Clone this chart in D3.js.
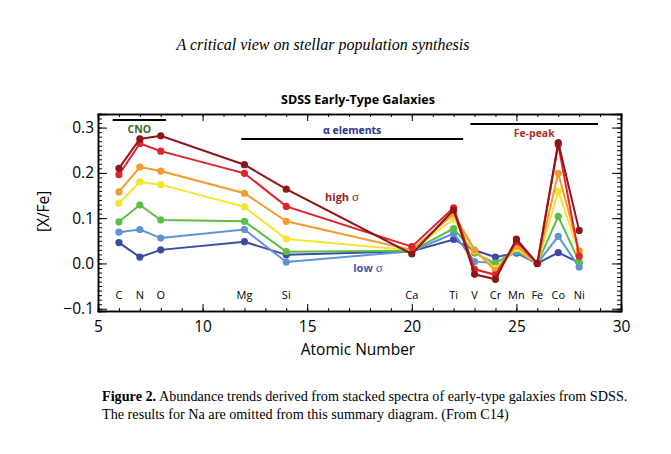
<!DOCTYPE html>
<html>
<head>
<meta charset="utf-8">
<script src="https://cdn.jsdelivr.net/npm/d3@7"></script>
<style>
  body { margin: 0; background: #fff; }
  svg { display: block; }
</style>
</head>
<body>
<script>
var width = 671,
  height = 454

// elements and their atomic numbers
var elements = ['C', 'N', 'O', 'Mg', 'Si', 'Ca', 'Ti', 'V', 'Cr', 'Mn', 'Fe', 'Co', 'Ni']
var atomicNumbers = [6, 7, 8, 12, 14, 20, 22, 23, 24, 25, 26, 27, 28]

// [X/Fe] per velocity dispersion bin, low sigma -> high sigma
var sigmaLowest = [0.046, 0.014, 0.030, 0.048, 0.019, 0.027, 0.053, 0.029, 0.014, 0.023, 0.0, 0.024, 0.002]
var sigmaBin2 = [0.069, 0.075, 0.056, 0.075, 0.003, 0.027, 0.066, 0.004, 0.001, 0.025, 0.0, 0.060, -0.008]
var sigmaBin3 = [0.092, 0.129, 0.096, 0.093, 0.026, 0.028, 0.077, 0.023, 0.000, 0.030, 0.0, 0.104, 0.004]
var sigmaBin4 = [0.133, 0.180, 0.174, 0.125, 0.054, 0.029, 0.098, 0.028, -0.011, 0.033, 0.0, 0.159, 0.024]
var sigmaBin5 = [0.158, 0.213, 0.204, 0.155, 0.093, 0.030, 0.109, 0.030, -0.016, 0.038, 0.0, 0.199, 0.028]
var sigmaBin6 = [0.196, 0.265, 0.248, 0.199, 0.126, 0.037, 0.123, -0.013, -0.025, 0.048, 0.0, 0.262, 0.016]
var sigmaHighest = [0.210, 0.275, 0.282, 0.218, 0.164, 0.021, 0.118, -0.024, -0.035, 0.054, 0.0, 0.267, 0.073]

var seriesValues = [sigmaLowest, sigmaBin2, sigmaBin3, sigmaBin4, sigmaBin5, sigmaBin6, sigmaHighest]
var seriesColors = ['#3a4ba3', '#5e93d8', '#5dbd45', '#f2e52e', '#f39b2d', '#e3232b', '#8e1518']

// element groups: label, first and last atomic number covered by the bar
var groupLabels = ['CNO', '\u03b1 elements', 'Fe-peak']
var groupStart = [5.7, 11.85, 22.8]
var groupEnd = [8.25, 22.45, 28.9]

var xTicks = [5, 10, 15, 20, 25, 30]
var yTicks = [-0.1, 0.0, 0.1, 0.2, 0.3]

var plot = { left: 98, right: 621, top: 114, bottom: 311 }

var x = d3.scaleLinear().domain([5, 30]).range([plot.left, plot.right])
var y = d3.scaleLinear().domain([-0.105, 0.33]).range([plot.bottom, plot.top])

var svg = d3.select('body').append('svg')
  .attr('width', width)
  .attr('height', height)

var sans = "'Open Sans', 'DejaVu Sans', sans-serif"
var serif = "'Liberation Serif', 'DejaVu Serif', serif"

// running head
svg.append('text')
  .attr('x', 323)
  .attr('y', 50)
  .attr('text-anchor', 'middle')
  .style('font-family', serif)
  .style('font-style', 'italic')
  .style('font-size', '16px')
  .text('A critical view on stellar population synthesis')

svg.append('text')
  .attr('x', 358)
  .attr('y', 104)
  .attr('text-anchor', 'middle')
  .style('font-family', sans)
  .style('font-weight', 'bold')
  .style('font-size', '12.5px')
  .text('SDSS Early-Type Galaxies')

// axes, ticks pointing inward on all four sides
function minor(domain, step) {
  var out = []
  for (var v = domain[0]; v <= domain[1] + 1e-9; v += step) out.push(+v.toFixed(3))
  return out
}
var xMinor = minor([5, 30], 1)
var yMinor = minor([-0.1, 0.33], 0.01)

var axes = svg.append('g').attr('class', 'axes')

axes.append('g')
  .attr('transform', 'translate(0,' + plot.bottom + ')')
  .call(d3.axisBottom(x).tickValues(xMinor).tickSize(-3).tickFormat(''))
axes.append('g')
  .attr('transform', 'translate(0,' + plot.bottom + ')')
  .call(d3.axisBottom(x).tickValues(xTicks).tickSize(-7).tickPadding(10).tickFormat(d3.format('d')))
axes.append('g')
  .attr('transform', 'translate(0,' + plot.top + ')')
  .call(d3.axisTop(x).tickValues(xMinor).tickSize(-3).tickFormat(''))
axes.append('g')
  .attr('transform', 'translate(0,' + plot.top + ')')
  .call(d3.axisTop(x).tickValues(xTicks).tickSize(-7).tickFormat(''))

axes.append('g')
  .attr('transform', 'translate(' + plot.left + ',0)')
  .call(d3.axisLeft(y).tickValues(yMinor).tickSize(-4).tickFormat(''))
axes.append('g')
  .attr('transform', 'translate(' + plot.left + ',0)')
  .call(d3.axisLeft(y).tickValues(yTicks).tickSize(-9).tickPadding(4)
    .tickFormat(function (d) { return d3.format('.1f')(d).replace('-', '\u2212') }))
axes.append('g')
  .attr('transform', 'translate(' + plot.right + ',0)')
  .call(d3.axisRight(y).tickValues(yMinor).tickSize(-4).tickFormat(''))
axes.append('g')
  .attr('transform', 'translate(' + plot.right + ',0)')
  .call(d3.axisRight(y).tickValues(yTicks).tickSize(-9).tickFormat(''))

axes.selectAll('.domain').attr('stroke', '#000').attr('stroke-width', 1.5)
axes.selectAll('.tick line').attr('stroke', '#000').attr('stroke-width', 1)
axes.selectAll('.tick text')
  .style('font-family', sans)
  .style('font-size', '15.5px')
  .attr('fill', '#000')

svg.append('text')
  .attr('x', 358)
  .attr('y', 355)
  .attr('text-anchor', 'middle')
  .style('font-family', sans)
  .style('font-size', '15.5px')
  .text('Atomic Number')

svg.append('text')
  .attr('transform', 'translate(49,' + y(0.115) + ') rotate(-90)')
  .attr('text-anchor', 'middle')
  .style('font-family', sans)
  .style('font-size', '15.5px')
  .text('[X/Fe]')

// element names along the bottom
svg.append('g').selectAll('text')
  .data(elements)
  .enter().append('text')
  .attr('x', function (d, i) { return x(atomicNumbers[i]) })
  .attr('y', y(-0.079))
  .attr('text-anchor', 'middle')
  .style('font-family', sans)
  .style('font-size', '11px')
  .text(function (d) { return d })

// group bars
var groupColors = ['#2f6b26', '#2c3586', '#b0302a']
var groupBarY = [0.317, 0.275, 0.308]
var groupTextY = [0.288, 0.285, 0.279]
var groups = svg.append('g')
groupLabels.forEach(function (label, i) {
  groups.append('line')
    .attr('x1', x(groupStart[i]))
    .attr('x2', x(groupEnd[i]))
    .attr('y1', y(groupBarY[i]))
    .attr('y2', y(groupBarY[i]))
    .attr('stroke', '#000')
    .attr('stroke-width', 2)
  groups.append('text')
    .attr('x', x((groupStart[i] + groupEnd[i]) / 2))
    .attr('y', y(groupTextY[i]))
    .attr('text-anchor', 'middle')
    .attr('fill', groupColors[i])
    .style('font-family', sans)
    .style('font-weight', 'bold')
    .style('font-size', '10.5px')
    .text(label)
})

// lines and points
var line = d3.line()
  .x(function (d, i) { return x(atomicNumbers[i]) })
  .y(function (d) { return y(d) })

var series = svg.selectAll('.series')
  .data(seriesValues)
  .enter().append('g')
  .attr('class', 'series')

series.append('path')
  .attr('d', line)
  .attr('fill', 'none')
  .attr('stroke', function (d, i) { return seriesColors[i] })
  .attr('stroke-width', 2)

series.each(function (vals, s) {
  d3.select(this).selectAll('circle')
    .data(vals)
    .enter().append('circle')
    .attr('cx', function (d, i) { return x(atomicNumbers[i]) })
    .attr('cy', function (d) { return y(d) })
    .attr('r', 3.6)
    .attr('fill', seriesColors[s])
})

svg.append('text')
  .attr('x', 342)
  .attr('y', 201)
  .attr('text-anchor', 'middle')
  .attr('fill', '#9b1c1f')
  .style('font-family', sans)
  .style('font-weight', 'bold')
  .style('font-size', '11px')
  .html('high <tspan style="font-family:serif;font-weight:normal;font-size:13px">\u03c3</tspan>')

svg.append('text')
  .attr('x', 368)
  .attr('y', 272)
  .attr('text-anchor', 'middle')
  .attr('fill', '#3f55b0')
  .style('font-family', sans)
  .style('font-weight', 'bold')
  .style('font-size', '11px')
  .html('low <tspan style="font-family:serif;font-weight:normal;font-size:13px">\u03c3</tspan>')

// caption
var caption = svg.append('g')
  .style('font-family', serif)
  .style('font-size', '14.2px')
var line1 = caption.append('text').attr('x', 102).attr('y', 401)
line1.append('tspan').style('font-weight', 'bold').text('Figure 2.')
line1.append('tspan').text(' Abundance trends derived from stacked spectra of early-type galaxies from SDSS.')
caption.append('text').attr('x', 102).attr('y', 419)
  .text('The results for Na are omitted from this summary diagram. (From C14)')
</script>
</body>
</html>
